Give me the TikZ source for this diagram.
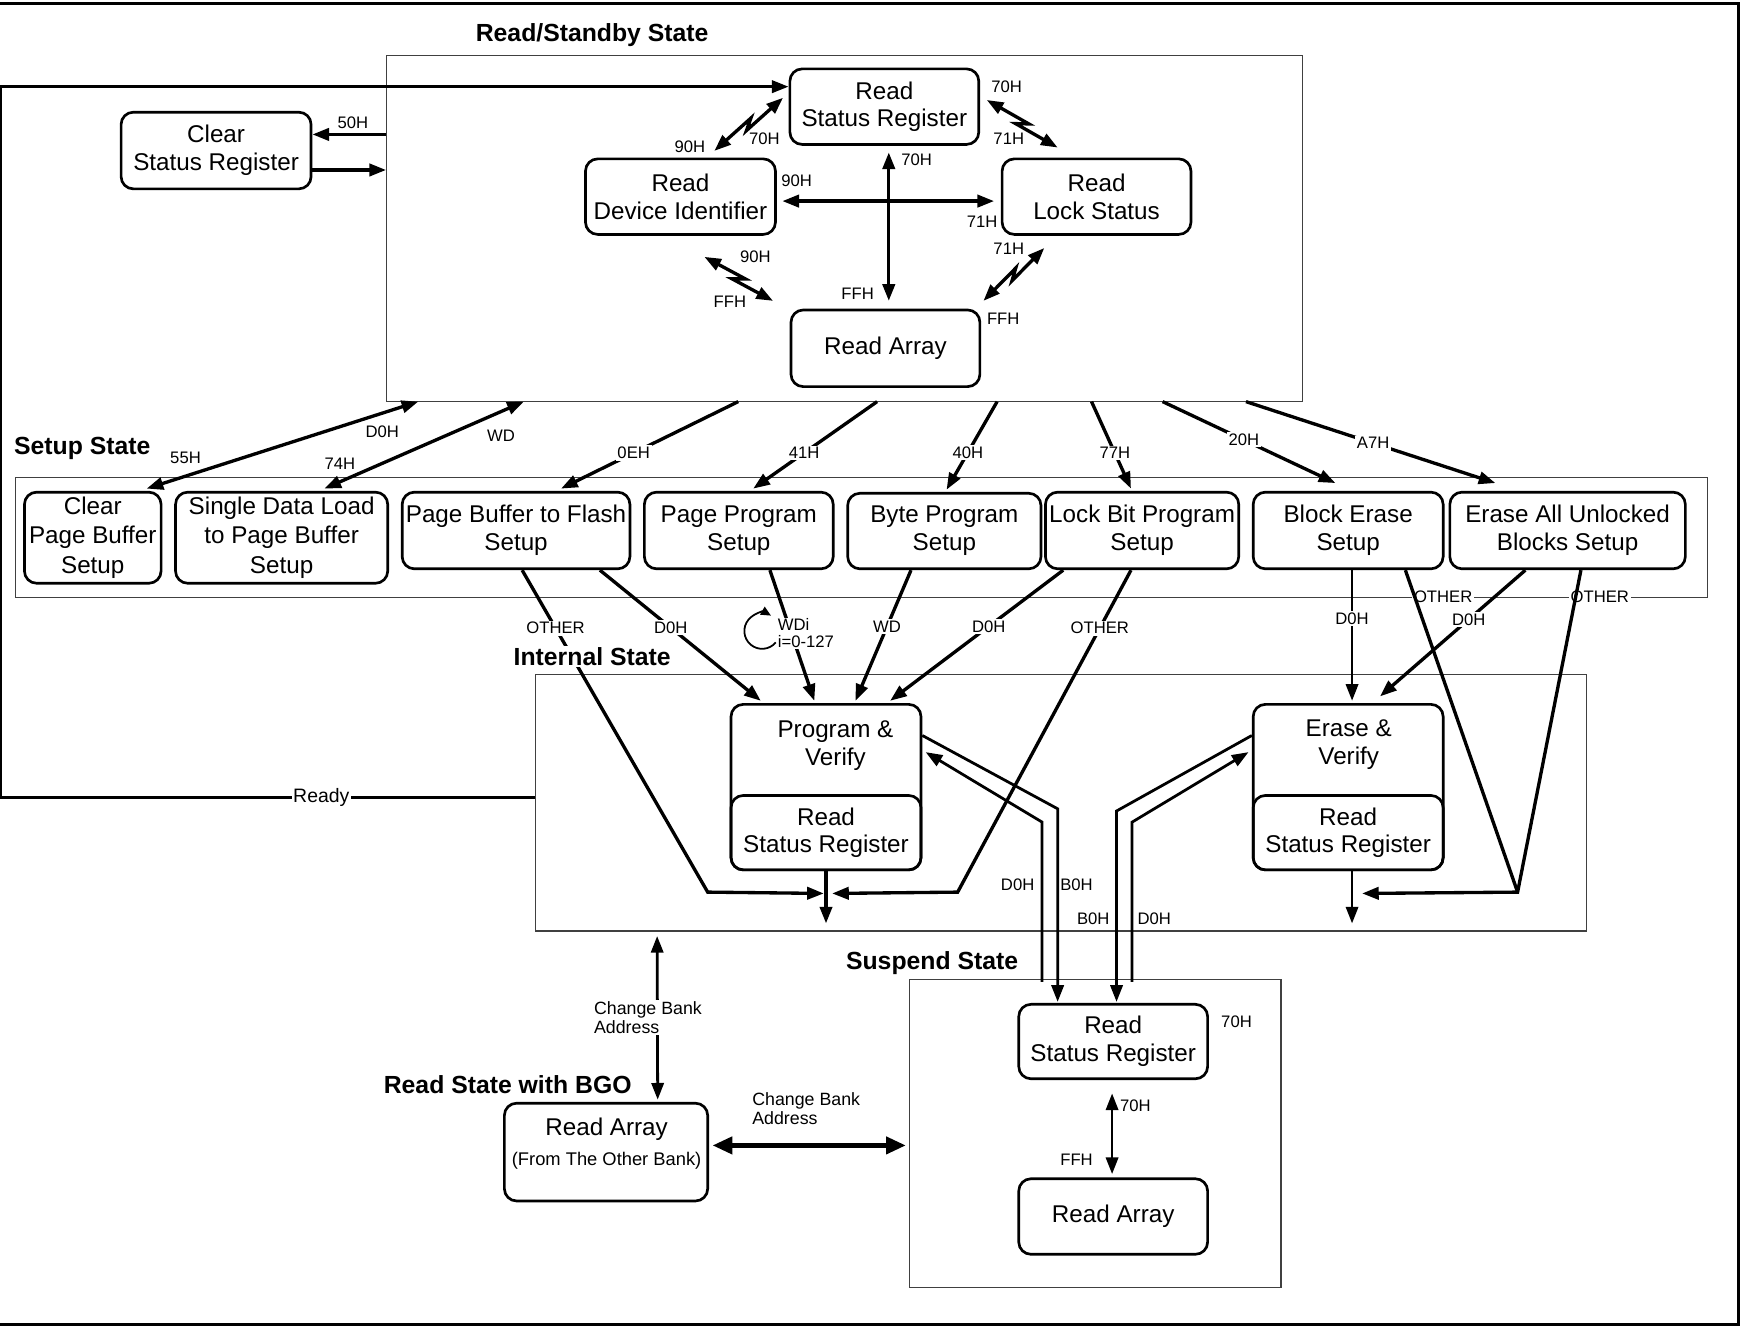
\documentclass[tikz,border=0pt]{standalone}
\usepackage{fontspec}
\setmainfont{Liberation Sans}
\usetikzlibrary{arrows.meta,calc}

\tikzset{
  state/.style={draw, line width=2.4pt, rounded corners=11pt, align=center, inner sep=0pt,
    font={\fontsize{21.8}{25}\selectfont}},
  frame/.style={draw=black!75, line width=1pt, inner sep=0pt},
  title/.style={font={\bfseries\fontsize{22.3}{25}\selectfont}},
  arr/.style={line width=3pt, ->},
  darr/.style={line width=3pt, <->},
  lbl/.style={fill=white, inner sep=1.5pt, font={\fontsize{15}{16}\selectfont}},
  tag/.style={inner sep=1pt, font={\fontsize{15}{16}\selectfont}},
  bolt/.style={line width=3pt, <->, to path={
    -- ($(\tikztostart)!0.5!(\tikztotarget)!5pt!(\tikztotarget)!3.2pt!90:(\tikztotarget)$)
    -- ($(\tikztostart)!0.5!(\tikztotarget)!-5pt!(\tikztotarget)!3.2pt!-90:(\tikztotarget)$)
    -- (\tikztotarget) \tikztonodes}},
}

\begin{document}
\begin{tikzpicture}[x=1pt, y=-1pt, >={Triangle[length=15pt,width=11pt]}]

\useasboundingbox (0,0) rectangle (1568,1194);
\draw[line width=2.6pt] (0,3) -- (1564.5,3) -- (1564.5,1192.5) -- (0,1192.5);

% state groups
\node[frame, minimum width=824pt, minimum height=311pt] (standby) at (760,205.5) {};
\node[frame, minimum width=1523pt, minimum height=108pt] (setup) at (775.5,484) {};
\node[frame, minimum width=946pt, minimum height=231pt] (internal) at (955,722.5) {};
\node[frame, minimum width=334pt, minimum height=277pt] (suspend) at (986,1020.5) {};

\node[title] (tstandby) at (533,32) {Read/Standby State};
\node[title] (tsetup) at (74,404) {Setup State};
\node[title] (tsuspend) at (839,867) {Suspend State};
\node[title] (tbgo) at (457,976) {Read State with BGO};

% read/standby
\node[state, minimum width=170pt, minimum height=68pt] (rsr) at (796,96) {Read\\Status Register};
\node[state, minimum width=171pt, minimum height=68pt] (rdi) at (612.5,177) {Read\\Device Identifier};
\node[state, minimum width=170pt, minimum height=68pt] (rls) at (987,177) {Read\\Lock Status};
\node[state, minimum width=170pt, minimum height=69pt] (ra) at (797,313.5) {Read Array};
\node[state, minimum width=171pt, minimum height=69pt] (csr) at (194.5,135.5) {Clear\\Status Register};

% setup
\node[state, minimum width=123pt, minimum height=82pt, font={\fontsize{21.8}{26.5}\selectfont}] (cpb) at (83.5,484) {Clear\\Page Buffer\\Setup};
\node[state, minimum width=191pt, minimum height=82pt, font={\fontsize{21.8}{26.5}\selectfont}] (sdl) at (253.5,484) {Single Data Load\\to Page Buffer\\Setup};
\node[state, minimum width=205pt, minimum height=69pt] (pbf) at (464.5,477.5) {Page Buffer to Flash\\Setup};
\node[state, minimum width=170pt, minimum height=69pt] (pps) at (665,477.5) {Page Program\\Setup};
\node[state, minimum width=174pt, minimum height=68pt] (bps) at (850,478) {Byte Program\\Setup};
\node[state, minimum width=174pt, minimum height=69pt] (lbp) at (1028,477.5) {Lock Bit Program\\Setup};
\node[state, minimum width=171pt, minimum height=69pt] (bes) at (1213.5,477.5) {Block Erase\\Setup};
\node[state, minimum width=212pt, minimum height=69pt] (eau) at (1411,477.5) {Erase All Unlocked\\Blocks Setup};

% internal
\node[state, minimum width=171pt, minimum height=149pt] (pv) at (743.5,708.5) {};
\node[state, minimum width=171pt, minimum height=67pt, anchor=south] (pvrsr) at (pv.south) {Read\\Status Register};
\node[align=center, font={\fontsize{21.8}{25}\selectfont}] (pvtxt) at (752,671) {Program \&\\Verify};
\node[state, minimum width=171pt, minimum height=149pt] (ev) at (1213.5,708.5) {};
\node[state, minimum width=171pt, minimum height=67pt, anchor=south] (evrsr) at (ev.south) {Read\\Status Register};
\node[align=center, font={\fontsize{21.8}{25}\selectfont}] (evtxt) at (1214,670) {Erase \&\\Verify};

% suspend and BGO
\node[state, minimum width=170pt, minimum height=67pt] (srsr) at (1002,937.5) {Read\\Status Register};
\node[state, minimum width=170pt, minimum height=68pt] (sra) at (1002,1095) {Read Array};
\node[state, minimum width=183pt, minimum height=88pt] (rabgo) at (545.5,1037) {};
\node[align=center, font={\fontsize{21.8}{25}\selectfont}] (rabgotxt) at (546,1029)
  {Read Array\\[2pt]{\fontsize{16.5}{20}\selectfont (From The Other Bank)}};

\coordinate (jl) at (637,803);
\coordinate (jr) at (862,803);
\coordinate (je) at (1366,803);
\coordinate (loopc) at (686,568);

\node[lbl] (lo3) at (1299,537) {OTHER};
\node[lbl] (lo4) at (1440,537) {OTHER};

% read/standby transitions
\draw[line width=2.8pt, ->] ([yshift=4.5pt]internal.west) -- node[lbl, pos=0.4, font={\fontsize{17.5}{20}\selectfont}] (lready) {Ready} ++(-480.7,0) |- ([yshift=18pt]rsr.west);
\draw[arr] ([yshift=84.5pt]standby.west) -- node[tag, above=3pt, pos=0.45] (l50) {50H} ([yshift=14.5pt]csr.east);
\draw[arr] ([yshift=-17.5pt]csr.east) -- ([yshift=52.5pt]standby.west);

\draw[bolt] ([shift={(30.5pt,6pt)}]rdi.north) to ([shift={(-5pt,8pt)}]rsr.west);
\draw[bolt] ([shift={(6pt,6pt)}]rsr.east) to ([shift={(-35pt,9pt)}]rls.north);
\draw[bolt] ([shift={(21.5pt,-19pt)}]rdi.south) to ([shift={(-15pt,7pt)}]ra.north west);
\draw[bolt] ([shift={(-47pt,-11pt)}]rls.south) to ([shift={(2pt,7pt)}]ra.north east);
\draw[darr] ([shift={(5pt,-4pt)}]rdi.east) -- ([shift={(-6pt,-4pt)}]rls.west);
\draw[darr] ([shift={(4pt,-6pt)}]rsr.south) -- ([shift={(3pt,7pt)}]ra.north);

\node[tag] (t1) at (621,132) {90H};
\node[tag] (t2) at (688,125) {70H};
\node[tag] (t3) at (906,78) {70H};
\node[tag] (t4) at (908,125) {71H};
\node[tag] (t5) at (680,231) {90H};
\node[tag] (t6) at (657,272) {FFH};
\node[tag] (t7) at (908,224) {71H};
\node[tag] (t8) at (903,287) {FFH};
\node[tag] (t9) at (717,163) {90H};
\node[tag] (t10) at (884,200) {71H};
\node[tag] (t11) at (825,144) {70H};
\node[tag] (t12) at (772,264) {FFH};

% into setup
\draw[darr] ([shift={(48.5pt,2pt)}]cpb.north) -- ([xshift=29pt]standby.south west);
\draw[darr] ([shift={(38.5pt,2pt)}]sdl.north) -- ([xshift=124pt]standby.south west);
\node[tag] (t13) at (167,412) {55H};
\node[tag] (t14) at (344,389) {D0H};
\node[tag] (t15) at (306,417) {74H};
\node[tag] (t16) at (451,392) {WD};
\draw[arr] ([xshift=317pt]standby.south west) -- node[lbl, pos=0.59] (l0e) {0EH} ([shift={(40.5pt,2pt)}]pbf.north);
\draw[arr] ([xshift=442pt]standby.south west) -- node[lbl, pos=0.59] (l41) {41H} ([shift={(13pt,2pt)}]pps.north);
\draw[arr] ([xshift=550pt]standby.south west) -- node[lbl, pos=0.58] (l40) {40H} ([shift={(2pt,2pt)}]bps.north);
\draw[arr] ([xshift=635pt]standby.south west) -- node[lbl, pos=0.59] (l77) {77H} ([shift={(-10pt,2pt)}]lbp.north);
\draw[arr] ([xshift=699pt]standby.south west) -- node[lbl, pos=0.47] (l20) {20H} ([shift={(-11.5pt,7pt)}]bes.north);
\draw[arr] ([xshift=774pt]standby.south west) -- node[lbl, pos=0.51] (la7) {A7H} ([shift={(-65pt,7pt)}]eau.north);

% into internal
\draw[arr] ([xshift=75.5pt]pbf.south) -- node[lbl, pos=0.44] (l1) {D0H} ([shift={(28pt,2pt)}]pv.north west);
\draw[arr] ([xshift=5.5pt]pbf.south) -- node[lbl, pos=0.18] (lo1) {OTHER} (jl) -- ([shift={(-2pt,-20pt)}]pvrsr.south);
\draw[arr] ([xshift=28pt]pps.south) -- ([shift={(-10.5pt,2pt)}]pv.north);
\node[lbl, align=left, anchor=west, inner sep=1pt, font={\fontsize{15}{15}\selectfont}] (lwdi) at (699,570) {WDi\\i=0-127};
\draw[line width=1.6pt, -{Triangle[length=9pt,width=8pt]}] ([shift={(-40:16pt)}]loopc) arc[start angle=-40, end angle=-300, radius=16pt];
\draw[arr] ([xshift=-30pt]bps.south) -- node[lbl, pos=0.43] (l2) {WD} ([shift={(26.5pt,2pt)}]pv.north);
\draw[arr] ([xshift=-71pt]lbp.south) -- node[lbl, pos=0.43] (l3) {D0H} ([shift={(-29pt,2pt)}]pv.north east);
\draw[arr] ([xshift=-10pt]lbp.south) -- node[lbl, pos=0.18] (lo2) {OTHER} (jr) -- ([shift={(5.5pt,-20pt)}]pvrsr.south);
\draw[arr] (pvrsr.south) -- ++(0,47);

\draw[arr, line width=2.4pt] ([xshift=3.5pt]bes.south) -- node[lbl, pos=0.37] (l4) {D0H} ([shift={(3.5pt,2pt)}]ev.north);
\draw[arr] ([xshift=-38pt]eau.south) -- node[lbl, pos=0.39] (l5) {D0H} ([shift={(-58pt,6pt)}]ev.north east);
\draw[line width=3pt] ([xshift=51.5pt]bes.south) -- (je);
\draw[arr] ([xshift=12pt]eau.south) -- (je) -- ([shift={(12.5pt,-20pt)}]evrsr.south);
\draw[arr, line width=2.4pt] ([xshift=3.5pt]evrsr.south) -- ++(0,47);

\node[title, fill=white, inner sep=1pt] (tinternal) at (533,591) {Internal State};

% suspend / resume
\draw[arr, line width=2.5pt] ([yshift=46.5pt]pv.east) -- (952,728) -- ([shift={(-50pt,1pt)}]srsr.north);
\draw[arr, line width=2.5pt] ([shift={(-64pt,19pt)}]srsr.north) -- (938,740) -- ([shift={(3pt,31.5pt)}]pv.east);
\draw[arr, line width=2.5pt] ([yshift=46.5pt]ev.west) -- (1005,730) -- ([shift={(3pt,1pt)}]srsr.north);
\draw[arr, line width=2.5pt] ([shift={(17pt,19pt)}]srsr.north) -- (1019,740) -- ([shift={(-3pt,31.5pt)}]ev.west);
\node[tag] (t17) at (916,796) {D0H};
\node[tag] (t18) at (969,796) {B0H};
\node[tag] (t19) at (984,827) {B0H};
\node[tag] (t20) at (1039,827) {D0H};

\draw[darr, line width=2.5pt] ([shift={(-1pt,-12pt)}]srsr.south) -- ([shift={(-1pt,3pt)}]sra.north);
\node[tag] (t21) at (1113,920) {70H};
\node[tag] (t22) at (1022,995) {70H};
\node[tag] (t23) at (969,1044) {FFH};

% bank change
\draw[darr, line width=2.5pt] ([shift={(110pt,-4pt)}]internal.south west) -- node[lbl, pos=0.5, xshift=-8.5pt, align=left, font={\fontsize{16}{17}\selectfont}] (lcb1) {Change Bank\\Address} ([shift={(46.5pt,2pt)}]rabgo.north);
\draw[line width=4.5pt, {Triangle[length=18pt,width=15pt]}-{Triangle[length=18pt,width=15pt]}] ([shift={(3pt,6pt)}]rabgo.east) -- ([shift={(-3pt,-10.5pt)}]suspend.west);
\node[tag, align=left, anchor=west, font={\fontsize{16}{17}\selectfont}] (lcb2) at (676,998) {Change Bank\\Address};

\end{tikzpicture}
\end{document}
